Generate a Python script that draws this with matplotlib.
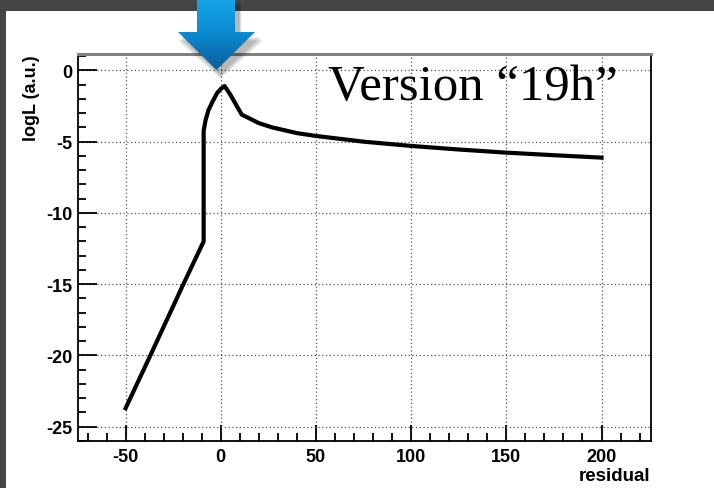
import numpy as np
import matplotlib
matplotlib.use("Agg")
import matplotlib.pyplot as plt
from matplotlib.patches import Polygon, Rectangle
from matplotlib.ticker import MultipleLocator

plt.rcParams['axes.unicode_minus'] = False

# curve
residual = [-50, -37, -20, -9, -9, -8, -6.5, -4.5, -2, 0, 2, 5, 8, 11, 20, 27, 40, 50, 75, 100, 125, 150, 175, 200]
logL = [-23.7, -20.0, -15.1, -12.0, -4.25, -3.5, -2.8, -2.24, -1.6, -1.3, -1.1, -1.7, -2.4, -3.1, -3.7, -4.0, -4.4, -4.6, -5.0, -5.3, -5.55, -5.77, -5.95, -6.12]

xticks = [-50, 0, 50, 100, 150, 200]
yticks = [0, -5, -10, -15, -20, -25]
label_text = "Version \u201c19h\u201d"

W, H = 714, 489
fig = plt.figure(figsize=(W/100, H/100), dpi=100)
fig.patch.set_facecolor('#454545')
fig.patches.append(Rectangle((6/W, 0), 1, 1-12/H, transform=fig.transFigure,
                             facecolor='white', edgecolor='none', zorder=-1))

ax = fig.add_axes([78/W, 1-442/H, (651-78)/W, (442-55)/H])
ax.plot(residual, logL, color='black', lw=3, solid_joinstyle='round', zorder=3)
ax.set_xlim(-75, 226)
ax.set_ylim(-26, 1.15)

ax.set_xticks(xticks)
ax.set_yticks(yticks)
ax.xaxis.set_minor_locator(MultipleLocator(10))
ax.yaxis.set_minor_locator(MultipleLocator(1))
ax.tick_params(axis='both', which='both', direction='in', width=1.3, color='black')
ax.tick_params(axis='y', which='major', length=13.5, pad=4)
ax.tick_params(axis='y', which='minor', length=6)
ax.tick_params(axis='x', which='major', length=11.5, pad=5)
ax.tick_params(axis='x', which='minor', length=5.5)
for lab in ax.get_xticklabels() + ax.get_yticklabels():
    lab.set_fontfamily('Liberation Sans')
    lab.set_fontweight('bold')
    lab.set_fontsize(13)

ax.grid(True, which='major', color='#555555', linestyle=(0, (1, 2)), lw=0.9)
ax.set_axisbelow(True)
ax.spines['top'].set_color('#808080')
ax.spines['top'].set_linewidth(2.2)
for s in ['left', 'bottom', 'right']:
    ax.spines[s].set_linewidth(1.3)

fig.text(31/W, 1-55/H, 'logL (a.u.)', rotation=90, ha='center', va='top',
         fontfamily='Liberation Sans', fontweight='bold', fontsize=13)
fig.text(650/W, 1-481/H, 'residual', ha='right', va='baseline',
         fontfamily='Liberation Sans', fontweight='bold', fontsize=13.5)
fig.text(328/W, 1-100/H, label_text, ha='left', va='baseline',
         fontfamily='Liberation Serif', fontsize=36.6)

# blue arrow on top, in pixel coords
ov = fig.add_axes([0, 0, 1, 1], zorder=5)
ov.set_xlim(0, W)
ov.set_ylim(H, 0)
ov.axis('off')
ov.patch.set_alpha(0)
arrow = [(197, -2), (235, -2), (235, 33), (255, 33), (216.5, 71), (178, 33), (197, 33)]
for k in range(6, 0, -1):
    sh = [(px + 4 + (px - 216) * 0.02 * k, py + 4 + k * 0.8) for px, py in arrow]
    ov.add_patch(Polygon(sh, closed=True, facecolor='black', edgecolor='none', alpha=0.05))
poly = Polygon(arrow, closed=True, facecolor='none', edgecolor='none')
ov.add_patch(poly)
grad = np.linspace(0, 1, 100).reshape(-1, 1)
cmap = matplotlib.colors.LinearSegmentedColormap.from_list('ab', ['#18a6ea', '#0b8ad0', '#0a5e9c'])
im = ov.imshow(grad, extent=(170, 260, 71, -2), cmap=cmap, aspect='auto', zorder=6)
im.set_clip_path(poly)
ov.set_xlim(0, W)
ov.set_ylim(H, 0)

fig.savefig('out.png', dpi=100)
